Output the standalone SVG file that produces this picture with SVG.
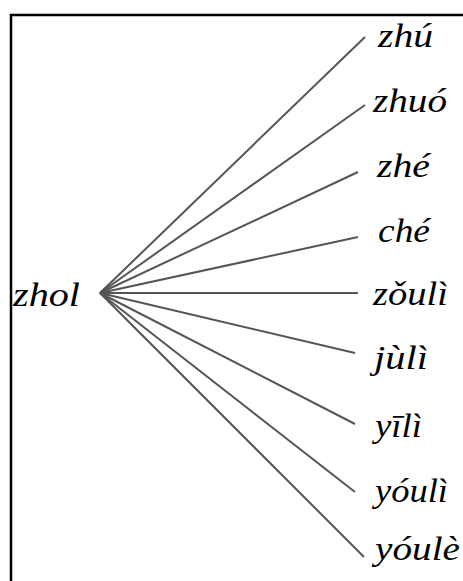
<svg xmlns="http://www.w3.org/2000/svg" width="463" height="581" viewBox="0 0 463 581">
<style>
.l{stroke:#555;stroke-width:2;fill:none}
.t{font-family:"Liberation Serif","Times New Roman",serif;font-style:italic;font-size:33px;fill:#000}
</style>
<rect x="0" y="0" width="463" height="581" fill="#fff"/>
<path d="M11 581 V15 H463" stroke="#000" stroke-width="2.5" fill="none"/>
<g id="connectors">
<line class="l" x1="100" y1="293" x2="365" y2="37"/>
<line class="l" x1="100" y1="293" x2="365" y2="105"/>
<line class="l" x1="100" y1="293" x2="358" y2="172"/>
<line class="l" x1="100" y1="293" x2="358" y2="237"/>
<line class="l" x1="100" y1="293" x2="358" y2="293"/>
<line class="l" x1="100" y1="293" x2="355" y2="353"/>
<line class="l" x1="100" y1="293" x2="355" y2="424"/>
<line class="l" x1="100" y1="293" x2="355" y2="492"/>
<line class="l" x1="100" y1="293" x2="364" y2="557"/>
</g>
<g id="n0"><text class="t" x="13" y="306" textLength="67" lengthAdjust="spacingAndGlyphs">zhol</text></g>
<g id="n1"><text class="t" x="378" y="47" textLength="55" lengthAdjust="spacingAndGlyphs">zhú</text></g>
<g id="n2"><text class="t" x="373" y="112" textLength="74" lengthAdjust="spacingAndGlyphs">zhuó</text></g>
<g id="n3"><text class="t" x="377" y="177" textLength="53" lengthAdjust="spacingAndGlyphs">zhé</text></g>
<g id="n4"><text class="t" x="378" y="242" textLength="52" lengthAdjust="spacingAndGlyphs">ché</text></g>
<g id="n5"><text class="t" x="373" y="305" textLength="75" lengthAdjust="spacingAndGlyphs">zǒulì</text></g>
<g id="n6"><text class="t" x="374" y="369" textLength="54" lengthAdjust="spacingAndGlyphs">jùlì</text></g>
<g id="n7"><text class="t" x="375" y="437" textLength="47" lengthAdjust="spacingAndGlyphs">yīlì</text></g>
<g id="n8"><text class="t" x="375" y="502" textLength="73" lengthAdjust="spacingAndGlyphs">yóulì</text></g>
<g id="n9"><text class="t" x="375" y="560" textLength="85" lengthAdjust="spacingAndGlyphs">yóulè</text></g>
</svg>
